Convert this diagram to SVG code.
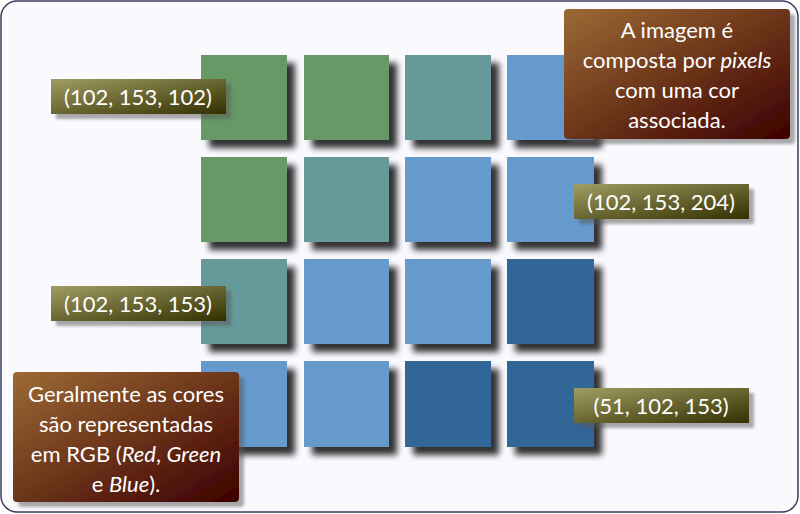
<svg xmlns="http://www.w3.org/2000/svg" width="800" height="514" viewBox="0 0 800 514">
<defs>
<filter id="sqShadow" x="-20%" y="-20%" width="150%" height="150%">
<feDropShadow dx="8" dy="8" stdDeviation="3" flood-color="#000" flood-opacity="0.8"/>
</filter>
<filter id="lblShadow" x="-10%" y="-20%" width="130%" height="160%">
<feDropShadow dx="5" dy="5" stdDeviation="1.5" flood-color="#555" flood-opacity="0.5"/>
</filter>
<linearGradient id="olive" x1="0" y1="0" x2="1" y2="1">
<stop offset="0" stop-color="#a09d64"/>
<stop offset="1" stop-color="#333000"/>
</linearGradient>
<linearGradient id="brown" x1="0" y1="0" x2="1" y2="1">
<stop offset="0" stop-color="#9c6a34"/>
<stop offset="1" stop-color="#3c0000"/>
</linearGradient>
</defs>
<style>
.sq { filter: url(#sqShadow); }
.g { fill: #669966; }
.t { fill: #669999; }
.l { fill: #6699cc; }
.d { fill: #336699; }
.lbl { fill: url(#olive); filter: url(#lblShadow); }
.note { fill: url(#brown); filter: url(#lblShadow); }
text { font-family: Lato, "Open Sans", "Liberation Sans", sans-serif; font-size: 22px; fill: #fff; text-anchor: middle; }
</style>
<rect x="1" y="1" width="797" height="511" rx="16" fill="#f9f9fe" stroke="#3c3c5e" stroke-width="1.5"/>
<g id="grid">
<g id="r1">
<rect class="sq g" x="201" y="55" width="86" height="85"/>
<rect class="sq g" x="304" y="55" width="85" height="85"/>
<rect class="sq t" x="405" y="55" width="86" height="85"/>
<rect class="sq l" x="507" y="55" width="87" height="85"/>
</g>
<g id="r2">
<rect class="sq g" x="201" y="157" width="86" height="85"/>
<rect class="sq t" x="304" y="157" width="85" height="85"/>
<rect class="sq l" x="405" y="157" width="86" height="85"/>
<rect class="sq l" x="507" y="157" width="87" height="85"/>
</g>
<g id="r3">
<rect class="sq t" x="201" y="259" width="86" height="85"/>
<rect class="sq l" x="304" y="259" width="85" height="85"/>
<rect class="sq l" x="405" y="259" width="86" height="85"/>
<rect class="sq d" x="507" y="259" width="87" height="85"/>
</g>
<g id="r4">
<rect class="sq l" x="201" y="361" width="86" height="86"/>
<rect class="sq l" x="304" y="361" width="85" height="86"/>
<rect class="sq d" x="405" y="361" width="86" height="86"/>
<rect class="sq d" x="507" y="361" width="87" height="86"/>
</g>
</g>
<g id="connectors"></g>
<g id="label1">
<rect class="lbl" x="51" y="79" width="175" height="35"/>
<text x="138" y="104.5">(102, 153, 102)</text>
</g>
<g id="label2">
<rect class="lbl" x="574" y="184" width="175" height="35"/>
<text x="661" y="209.5">(102, 153, 204)</text>
</g>
<g id="label3">
<rect class="lbl" x="51" y="286" width="175" height="35"/>
<text x="138" y="311.5">(102, 153, 153)</text>
</g>
<g id="label4">
<rect class="lbl" x="574" y="388" width="175" height="35"/>
<text x="661" y="413.5">(51, 102, 153)</text>
</g>
<g id="note1">
<rect class="note" x="564" y="9" width="226" height="130" rx="4"/>
<text x="677" y="38">A imagem é</text>
<text x="677" y="68">composta por <tspan font-style="italic">pixels</tspan></text>
<text x="677" y="98">com uma cor</text>
<text x="677" y="128">associada.</text>
</g>
<g id="note2">
<rect class="note" x="13" y="372" width="226" height="130" rx="4"/>
<text x="126" y="402">Geralmente as cores</text>
<text x="126" y="432">são representadas</text>
<text x="126" y="462">em RGB (<tspan font-style="italic">Red</tspan>, <tspan font-style="italic">Green</tspan></text>
<text x="126" y="492">e <tspan font-style="italic">Blue</tspan>).</text>
</g>
</svg>
